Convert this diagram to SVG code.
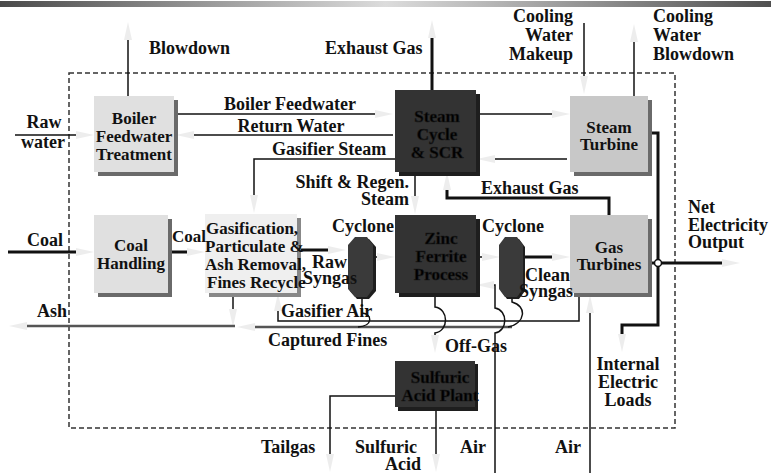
<svg xmlns="http://www.w3.org/2000/svg" width="771" height="473" viewBox="0 0 771 473">
<defs>
<linearGradient id="bar" x1="0" y1="0" x2="1" y2="0">
<stop offset="0" stop-color="#4a4a4a"/>
<stop offset="0.5" stop-color="#dcdcdc"/>
<stop offset="1" stop-color="#505050"/>
</linearGradient>
<marker id="ah" markerUnits="userSpaceOnUse" markerWidth="20" markerHeight="10" refX="0" refY="5" orient="auto" viewBox="0 0 20 10" overflow="visible">
<path d="M0,1 L18,5 L0,9 z" fill="#ededed"/>
</marker>
<style>
.t{font-family:"Liberation Serif","Times New Roman",serif;font-weight:bold;font-size:18px;fill:#111}
.b{font-size:17px}
.m{text-anchor:middle}
.e{text-anchor:end}
.dk{fill:#000;stroke:#1a1a1a;stroke-width:0.6}
.ln{fill:none;stroke:#111;stroke-width:1.5}
.th{stroke-width:3}
.gr{stroke:#555;stroke-width:2.5}
.a{marker-end:url(#ah)}
.lt{fill:#e0e0e0}
.md{fill:#c8c8c8}
.sh{fill:#6a6a6a}
.dark{fill:#333}
.dsh{fill:#1e1e1e}
</style>
</defs>
<rect width="771" height="473" fill="#fff"/>
<rect x="0" y="1" width="771" height="6" fill="url(#bar)"/>
<rect x="69" y="73" width="606" height="355" fill="none" stroke="#333" stroke-width="1.5" stroke-dasharray="5,3"/>

<g id="connectors">
<path class="ln a" d="M128,96 V40"/>
<path class="ln th a" d="M432,90 V38"/>
<path class="ln a" d="M584,23 V76"/>
<path class="ln a" d="M634,96 V42"/>
<path class="ln a" d="M15,135 H76"/>
<path class="ln a" d="M174,114 H375"/>
<path class="ln a" d="M393,135 H194"/>
<path class="ln a" d="M395,159 H254 V195"/>
<path class="ln a" d="M415,172 V196"/>
<path class="ln th a" d="M609,215 V198 H447 V190"/>
<path class="ln a" d="M477,114 H552"/>
<path class="ln a" d="M567,159 H495"/>
<path class="ln th a" d="M8,252 H76"/>
<path class="ln th a" d="M168,252 H187"/>
<path class="ln th a" d="M297,250 H328"/>
<path class="ln a" d="M373,257 H377"/>
<path class="ln a" d="M476,257 H482"/>
<path class="ln th a" d="M523,257 H552"/>
<path class="ln th a" d="M648,133 H658 V325 H622 V334"/>
<path class="ln th a" d="M648,263 H722"/>
<circle cx="658" cy="263" r="3.5" fill="#fff" stroke="#111" stroke-width="1.5"/>
<path class="ln a" d="M233,293 V309"/>
<path class="ln gr a" d="M235,326 H27"/>
<path class="ln gr a" d="M512,327 H255"/>
<path class="ln" d="M362,296 V313 C373,314 373,326 358,327"/>
<path class="ln" d="M512,296 V302 C527,306 526,323 508,327"/>
<path class="ln a" d="M579,293 V321 H278 V311"/>
<path class="ln a" d="M435,293 V307 C449,309 449,331 435,333 V335"/>
<path class="ln a" d="M495,473 V333 C508,331 508,310 495,308 V285 H494"/>
<path class="ln a" d="M590,473 V313"/>
<path class="ln a" d="M395,396 H330 V454"/>
<path class="ln a" d="M436,410 V454"/>
</g>

<g id="boiler-feedwater-treatment">
<rect class="sh" x="98" y="100" width="80" height="76"/>
<rect class="lt" x="94" y="96" width="80" height="76"/>
<text class="t b m" x="134" y="124">Boiler</text>
<text class="t b m" x="134" y="142">Feedwater</text>
<text class="t b m" x="134" y="160">Treatment</text>
</g>

<g id="steam-cycle-scr">
<rect class="dsh" x="399" y="94" width="81" height="82"/>
<rect class="dark" x="395" y="90" width="81" height="82"/>
<text class="t b m dk" x="437" y="122">Steam</text>
<text class="t b m dk" x="437" y="140">Cycle</text>
<text class="t b m dk" x="437" y="158">&amp; SCR</text>
</g>

<g id="steam-turbine">
<rect class="sh" x="574" y="100" width="78" height="76"/>
<rect class="md" x="570" y="96" width="78" height="76"/>
<text class="t b m" x="609" y="133">Steam</text>
<text class="t b m" x="609" y="150">Turbine</text>
</g>

<g id="coal-handling">
<rect class="sh" x="98" y="219" width="74" height="78"/>
<rect class="lt" x="94" y="215" width="74" height="78"/>
<text class="t b m" x="131" y="251">Coal</text>
<text class="t b m" x="131" y="269">Handling</text>
</g>

<g id="gasification">
<rect fill="#888" x="209" y="218" width="92" height="79"/>
<rect fill="#efefef" x="205" y="214" width="92" height="79"/>
<text class="t b" x="206" y="234">Gasification,</text>
<text class="t b" x="205" y="252">Particulate &amp;</text>
<text class="t b" x="205" y="270">Ash Removal,</text>
<text class="t b" x="207" y="288">Fines Recycle</text>
</g>

<g id="cyclone-1">
<path fill="#1e1e1e" d="M357,239 H369 L376,247 V291 L369,299 H357 L350,291 V247 Z"/>
<path fill="#3a3a3a" d="M355,237 H367 L373,245 V289 L367,297 H355 L348,289 V245 Z"/>
</g>

<g id="zinc-ferrite-process">
<rect class="dsh" x="399" y="219" width="81" height="78"/>
<rect class="dark" x="395" y="215" width="81" height="78"/>
<text class="t b m dk" x="441" y="244">Zinc</text>
<text class="t b m dk" x="441" y="262">Ferrite</text>
<text class="t b m dk" x="441" y="280">Process</text>
</g>

<g id="cyclone-2">
<path fill="#1e1e1e" d="M507,239 H519 L525,247 V291 L519,299 H507 L501,291 V247 Z"/>
<path fill="#3a3a3a" d="M505,237 H517 L523,245 V289 L517,297 H505 L499,289 V245 Z"/>
</g>

<g id="gas-turbines">
<rect class="sh" x="574" y="219" width="78" height="78"/>
<rect class="md" x="570" y="215" width="78" height="78"/>
<text class="t b m" x="609" y="253">Gas</text>
<text class="t b m" x="609" y="270">Turbines</text>
</g>

<g id="sulfuric-acid-plant">
<rect class="dsh" x="398" y="364" width="80" height="47"/>
<rect class="dark" x="395" y="361" width="80" height="46"/>
<text class="t b m dk" x="440" y="383">Sulfuric</text>
<text class="t b m dk" x="440" y="401">Acid Plant</text>
</g>

<g id="labels">
<text class="t" x="149" y="54">Blowdown</text>
<text class="t" x="325" y="54">Exhaust Gas</text>
<text class="t e" x="573" y="22">Cooling</text>
<text class="t e" x="573" y="41">Water</text>
<text class="t e" x="573" y="60">Makeup</text>
<text class="t" x="653" y="22">Cooling</text>
<text class="t" x="653" y="41">Water</text>
<text class="t" x="653" y="60">Blowdown</text>
<text class="t m" x="44" y="128">Raw</text>
<text class="t m" x="43" y="148">water</text>
<text class="t m" x="290" y="110">Boiler Feedwater</text>
<text class="t m" x="291" y="132">Return Water</text>
<text class="t" x="272" y="155">Gasifier Steam</text>
<text class="t e" x="409" y="188">Shift &amp; Regen.</text>
<text class="t e" x="409" y="205">Steam</text>
<text class="t" x="481" y="194">Exhaust Gas</text>
<text class="t" x="27" y="246">Coal</text>
<text class="t" x="172" y="242" style="font-size:17px">Coal</text>
<text class="t" x="332" y="232">Cyclone</text>
<text class="t" x="482" y="232">Cyclone</text>
<text class="t" x="312" y="268">Raw</text>
<text class="t" x="303" y="284">Syngas</text>
<text class="t" x="525" y="281">Clean</text>
<text class="t" x="519" y="297">Syngas</text>
<text class="t" x="688" y="213">Net</text>
<text class="t" x="688" y="231">Electricity</text>
<text class="t" x="688" y="248">Output</text>
<text class="t" x="37" y="317">Ash</text>
<text class="t" x="281" y="317">Gasifier Air</text>
<text class="t" x="268" y="346">Captured Fines</text>
<text class="t" x="445" y="352">Off-Gas</text>
<text class="t m" x="628" y="370">Internal</text>
<text class="t m" x="628" y="388">Electric</text>
<text class="t m" x="628" y="406">Loads</text>
<text class="t" x="261" y="453">Tailgas</text>
<text class="t" x="355" y="453">Sulfuric</text>
<text class="t" x="385" y="470">Acid</text>
<text class="t" x="460" y="453">Air</text>
<text class="t" x="555" y="453">Air</text>
</g>
</svg>
